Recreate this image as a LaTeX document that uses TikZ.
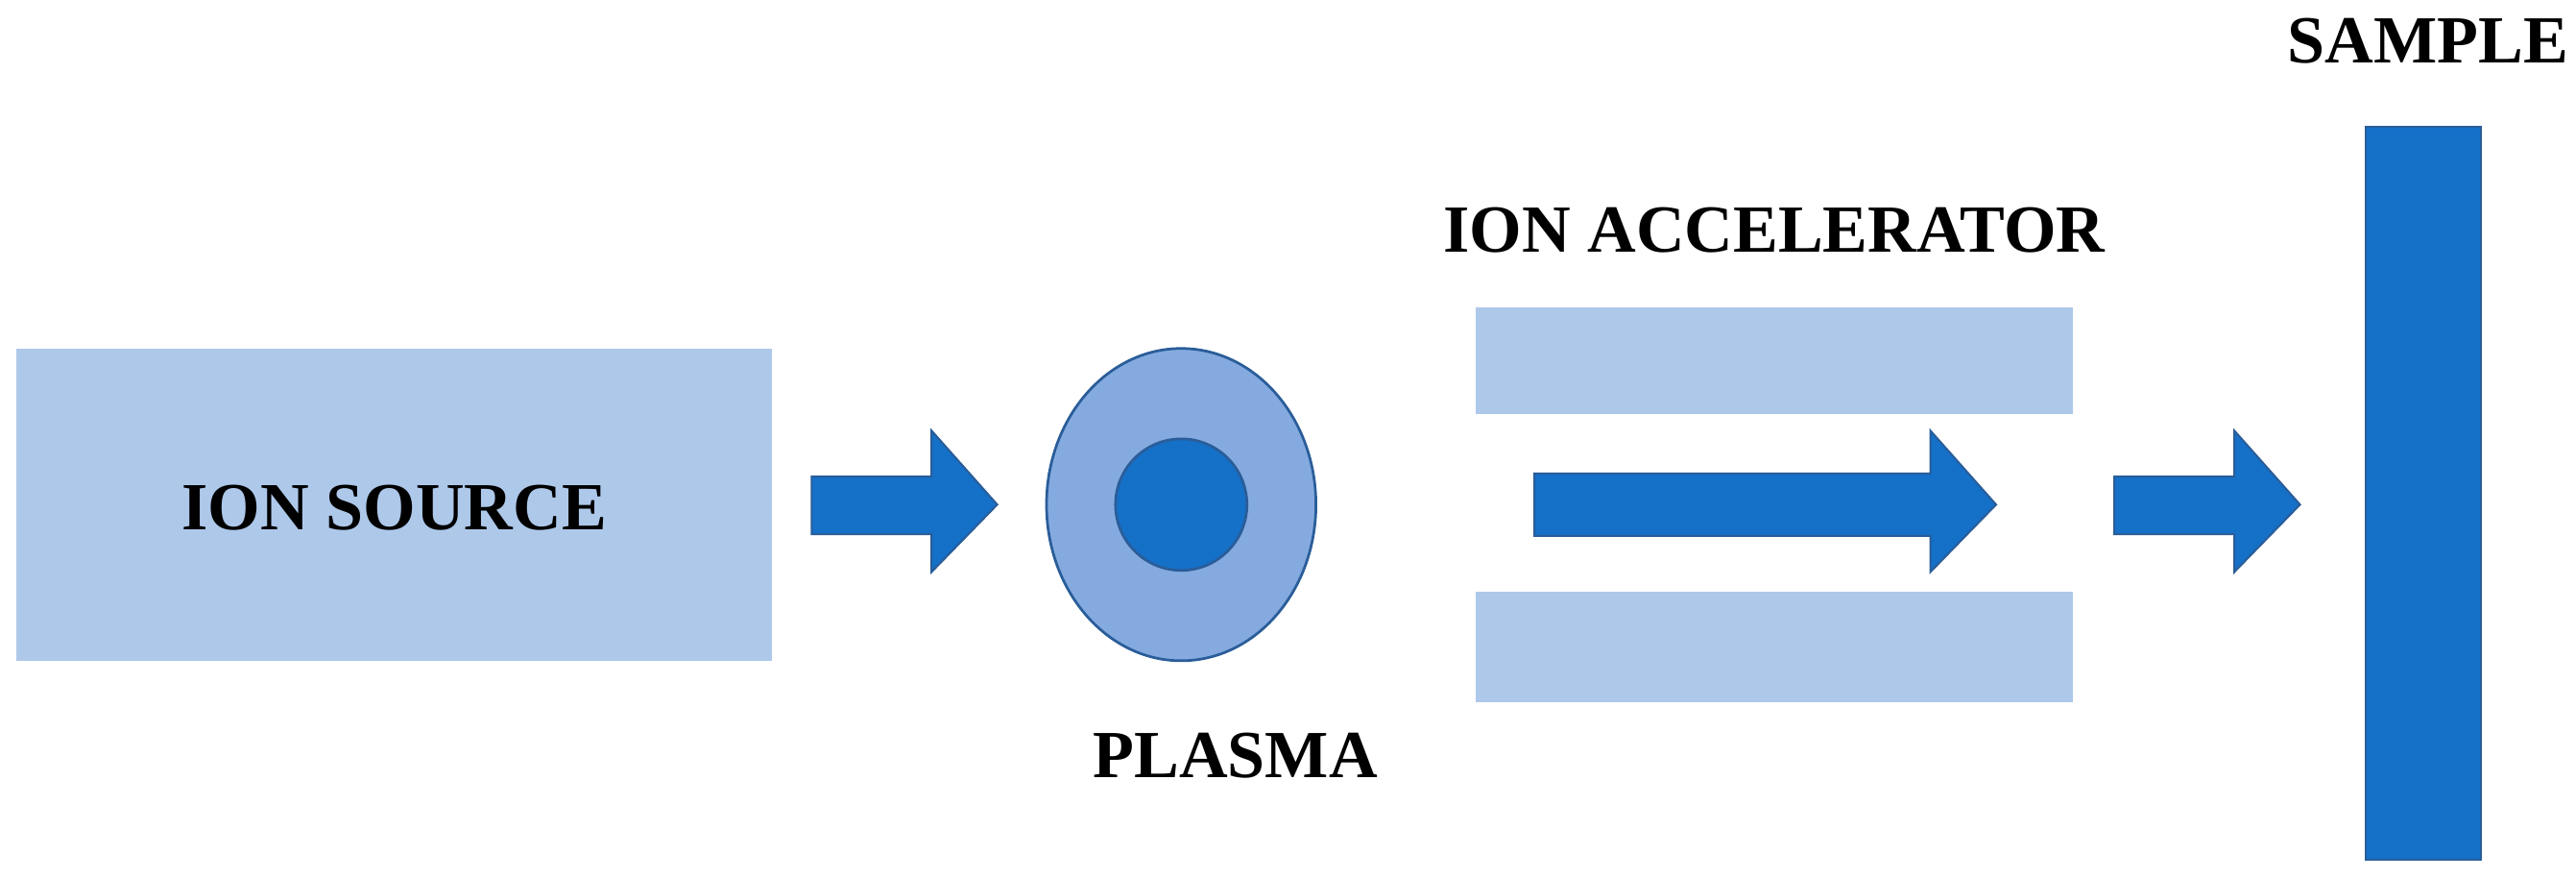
\documentclass[tikz,border=0pt]{standalone}
\usepackage{fontspec}
\setmainfont{Liberation Serif}
\usetikzlibrary{shapes.geometric}
\definecolor{lightb}{HTML}{AEC8EA}
\definecolor{midb}{HTML}{84AADF}
\definecolor{darkb}{HTML}{1570C8}
\definecolor{edgeb}{HTML}{2A5D99}
\begin{document}
\begin{tikzpicture}[x=0.5pt,y=-0.5pt,
  lbl/.style={font=\fontsize{20.5}{24}\selectfont\bfseries},
  plate/.style={fill=lightb,draw=none},
  barrow/.style={fill=darkb,draw=edgeb,line width=0.6pt}]
\useasboundingbox (0,0) rectangle (1568,534);
\node[plate,minimum width=230pt,minimum height=95pt,inner sep=0pt] (src) at (240,307) {};
\node[lbl] (srct) at (240,309) {ION SOURCE};
\draw[barrow] (494,290) -- (567,290) -- (567,262) -- (607,307) -- (567,348) -- (567,325) -- (494,325) -- cycle;
\node[ellipse,fill=midb,draw=edgeb,line width=0.8pt,minimum width=82pt,minimum height=95pt,inner sep=0pt] (pl) at (719,307) {};
\node[circle,fill=darkb,draw=edgeb,line width=0.8pt,minimum size=40pt,inner sep=0pt] (core) at (pl) {};
\node[lbl] (plt) at (752,460) {PLASMA};
\fill[lightb] (898,187) rectangle (1262,252);
\fill[lightb] (898,360) rectangle (1262,427);
\node[lbl] (acc) at (1080,140) {ION ACCELERATOR};
\draw[barrow] (934,288) -- (1175,288) -- (1175,262) -- (1215,307) -- (1175,348) -- (1175,326) -- (934,326) -- cycle;
\draw[barrow] (1287,290) -- (1360,290) -- (1360,262) -- (1400,307) -- (1360,348) -- (1360,325) -- (1287,325) -- cycle;
\draw[fill=darkb,draw=edgeb,line width=0.6pt] (1440,77) rectangle (1510,523);
\node[lbl] (smp) at (1478,25) {SAMPLE};
\end{tikzpicture}
\end{document}
